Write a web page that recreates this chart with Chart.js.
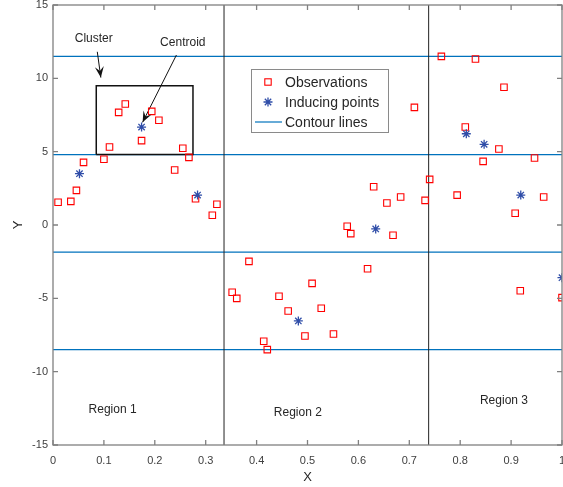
<!DOCTYPE html>
<html>
<head>
<meta charset="utf-8">
<script src="https://cdn.jsdelivr.net/npm/chart.js@4/dist/chart.umd.min.js"></script>
<style>
  html, body { margin: 0; padding: 0; background: #fff; }
  #chart { display: block; }
</style>
</head>
<body>
<canvas id="chart" width="563" height="487"></canvas>
<script>
// observations (red squares)
const obsX = [0.010, 0.035, 0.046, 0.060, 0.100, 0.111, 0.129, 0.142, 0.174, 0.194,
              0.208, 0.239, 0.255, 0.267, 0.280, 0.313, 0.322, 0.352, 0.361, 0.385,
              0.414, 0.421, 0.444, 0.462, 0.495, 0.509, 0.527, 0.551, 0.578, 0.585,
              0.618, 0.630, 0.656, 0.668, 0.683, 0.710, 0.731, 0.740, 0.763, 0.794,
              0.810, 0.830, 0.845, 0.876, 0.886, 0.908, 0.918, 0.946, 0.964, 1.000];
const obsY = [1.55, 1.61, 2.36, 4.27, 4.48, 5.32, 7.68, 8.25, 5.75, 7.75,
              7.14, 3.75, 5.23, 4.61, 1.79, 0.66, 1.41, -4.59, -5.00, -2.48,
              -7.93, -8.50, -4.86, -5.86, -7.57, -3.98, -5.68, -7.43, -0.09, -0.59,
              -2.98, 2.61, 1.50, -0.70, 1.91, 8.02, 1.68, 3.11, 11.50, 2.04,
              6.68, 11.32, 4.34, 5.18, 9.39, 0.80, -4.48, 4.57, 1.91, -4.95];

// inducing points (blue stars)
const indX = [0.052, 0.174, 0.284, 0.482, 0.634, 0.812, 0.847, 0.919, 1.000];
const indY = [3.50, 6.68, 2.04, -6.54, -0.27, 6.22, 5.50, 2.04, -3.59];

// horizontal contour lines and region borders
const contourLevels = [11.5, 4.8, -1.85, -8.5];
const regionBorders = [0.336, 0.738];

// cluster box [x0, x1], [y0, y1]
const clusterBoxX = [0.085, 0.275];
const clusterBoxY = [4.8, 9.5];

// annotations: text, x, y
const labels = [
  ['Cluster', 0.080, 12.68],
  ['Centroid', 0.255, 12.41],
  ['Region 1', 0.117, -12.61],
  ['Region 2', 0.481, -12.77],
  ['Region 3', 0.886, -12.0]
];
// arrows: from [x, y] to [x, y]
const arrows = [
  [[0.087, 11.81], [0.094, 10.05]],
  [[0.2425, 11.59], [0.176, 7.0]]
];

const xTicks = [0, 0.1, 0.2, 0.3, 0.4, 0.5, 0.6, 0.7, 0.8, 0.9, 1];
const yTicks = [-15, -10, -5, 0, 5, 10, 15];

const FONT = '"Liberation Sans", Arial, Helvetica, sans-serif';
const TXT = '#262626';
const AXIS = '#808080';
const BLUE_LINE = '#0072BD';
const RED = '#FF0000';
const STAR = '#2F4DA8';

const datasets = [
  {
    label: 'Inducing points',
    data: indX.map((x, i) => ({ x, y: indY[i] })),
    pointStyle: 'star',
    radius: 4.5,
    borderColor: STAR,
    backgroundColor: STAR,
    borderWidth: 1.3,
    showLine: false
  },
  {
    label: 'Observations',
    data: obsX.map((x, i) => ({ x, y: obsY[i] })),
    pointStyle: 'rect',
    radius: 4.6,
    borderColor: RED,
    backgroundColor: 'rgba(0,0,0,0)',
    borderWidth: 1.1,
    showLine: false
  },
  {
    label: 'box',
    data: [
      { x: clusterBoxX[0], y: clusterBoxY[0] }, { x: clusterBoxX[1], y: clusterBoxY[0] },
      { x: clusterBoxX[1], y: clusterBoxY[1] }, { x: clusterBoxX[0], y: clusterBoxY[1] },
      { x: clusterBoxX[0], y: clusterBoxY[0] }
    ],
    showLine: true, borderColor: '#111', borderWidth: 1.5, pointRadius: 0, fill: false
  }
];
arrows.forEach(a => datasets.push({
  label: 'arrow',
  data: [{ x: a[0][0], y: a[0][1] }, { x: a[1][0], y: a[1][1] }],
  showLine: true, borderColor: '#111', borderWidth: 1, pointRadius: 0, fill: false
}));
regionBorders.forEach(bx => datasets.push({
  label: 'border',
  data: [{ x: bx, y: -15 }, { x: bx, y: 15 }],
  showLine: true, borderColor: '#222', borderWidth: 1, pointRadius: 0, fill: false
}));
contourLevels.forEach(lv => datasets.push({
  label: 'Contour lines',
  data: [{ x: 0, y: lv }, { x: 1, y: lv }],
  showLine: true, borderColor: BLUE_LINE, borderWidth: 1.2, pointRadius: 0, fill: false
}));

const decor = {
  id: 'decor',
  afterDraw(chart) {
    const ctx = chart.ctx;
    const ca = chart.chartArea;
    const xs = chart.scales.x, ys = chart.scales.y;
    ctx.save();

    // arrow heads
    ctx.fillStyle = '#111';
    arrows.forEach(a => {
      const x0 = xs.getPixelForValue(a[0][0]), y0 = ys.getPixelForValue(a[0][1]);
      const x1 = xs.getPixelForValue(a[1][0]), y1 = ys.getPixelForValue(a[1][1]);
      const ang = Math.atan2(y1 - y0, x1 - x0);
      const L = 11, W = 4.5;
      ctx.beginPath();
      ctx.moveTo(x1, y1);
      ctx.lineTo(x1 - L * Math.cos(ang) + W * Math.sin(ang), y1 - L * Math.sin(ang) - W * Math.cos(ang));
      ctx.lineTo(x1 - 0.6 * L * Math.cos(ang), y1 - 0.6 * L * Math.sin(ang));
      ctx.lineTo(x1 - L * Math.cos(ang) - W * Math.sin(ang), y1 - L * Math.sin(ang) + W * Math.cos(ang));
      ctx.closePath();
      ctx.fill();
    });

    // texts
    ctx.fillStyle = TXT;
    ctx.font = '12px ' + FONT;
    ctx.textAlign = 'center';
    ctx.textBaseline = 'middle';
    labels.forEach(l => {
      ctx.fillText(l[0], xs.getPixelForValue(l[1]), ys.getPixelForValue(l[2]));
    });

    // axes box and inward ticks
    ctx.strokeStyle = AXIS;
    ctx.lineWidth = 1.3;
    ctx.strokeRect(ca.left, ca.top, ca.right - ca.left, ca.bottom - ca.top);
    ctx.beginPath();
    xTicks.forEach(v => {
      const px = xs.getPixelForValue(v);
      ctx.moveTo(px, ca.bottom); ctx.lineTo(px, ca.bottom - 5);
      ctx.moveTo(px, ca.top); ctx.lineTo(px, ca.top + 5);
    });
    yTicks.forEach(v => {
      const py = ys.getPixelForValue(v);
      ctx.moveTo(ca.left, py); ctx.lineTo(ca.left + 5, py);
      ctx.moveTo(ca.right, py); ctx.lineTo(ca.right - 5, py);
    });
    ctx.stroke();

    // legend
    const lx = ca.left + 198, ly = ca.top + 64, lw = 137, lh = 63;
    ctx.fillStyle = '#fff';
    ctx.fillRect(lx, ly, lw, lh);
    ctx.strokeStyle = '#8a8a8a';
    ctx.lineWidth = 1;
    ctx.strokeRect(lx + 0.5, ly + 0.5, lw, lh);
    const rows = [ly + 13, ly + 33, ly + 53];
    const mx = lx + 17;
    // square
    ctx.strokeStyle = RED; ctx.lineWidth = 1.1;
    ctx.strokeRect(mx - 3.2, rows[0] - 3.2, 6.4, 6.4);
    // star
    ctx.strokeStyle = STAR; ctx.lineWidth = 1.3;
    ctx.beginPath();
    for (let k = 0; k < 4; k++) {
      const a = k * Math.PI / 4;
      ctx.moveTo(mx - 4.5 * Math.cos(a), rows[1] - 4.5 * Math.sin(a));
      ctx.lineTo(mx + 4.5 * Math.cos(a), rows[1] + 4.5 * Math.sin(a));
    }
    ctx.stroke();
    // line
    ctx.strokeStyle = BLUE_LINE; ctx.lineWidth = 1.2;
    ctx.beginPath(); ctx.moveTo(lx + 4, rows[2]); ctx.lineTo(lx + 31, rows[2]); ctx.stroke();
    ctx.fillStyle = TXT;
    ctx.font = '14px ' + FONT;
    ctx.textAlign = 'left';
    ['Observations', 'Inducing points', 'Contour lines'].forEach((t, i) => {
      ctx.fillText(t, lx + 34, rows[i] + 1);
    });

    // axis titles
    ctx.font = '13px ' + FONT;
    ctx.textAlign = 'center';
    ctx.fillText('X', (ca.left + ca.right) / 2, 477);
    ctx.translate(18, (ca.top + ca.bottom) / 2);
    ctx.rotate(-Math.PI / 2);
    ctx.fillText('Y', 0, 0);
    ctx.restore();
  }
};

new Chart(document.getElementById('chart'), {
  type: 'scatter',
  data: { datasets },
  options: {
    responsive: false,
    animation: false,
    layout: { autoPadding: false, padding: { top: 5, right: 1, left: 0, bottom: 0 } },
    plugins: { legend: { display: false }, tooltip: { enabled: false } },
    scales: {
      x: {
        type: 'linear', min: 0, max: 1,
        grid: { display: false, drawTicks: false },
        border: { display: false },
        ticks: { padding: 9, color: '#404040', font: { family: FONT, size: 11 }, maxRotation: 0,
                 callback: v => String(Math.round(v * 10) / 10) },
        afterBuildTicks(s) { s.ticks = xTicks.map(v => ({ value: v })); },
        afterFit(s) { s.height = 42; s.paddingLeft = 0; s.paddingRight = 0; }
      },
      y: {
        type: 'linear', min: -15, max: 15,
        grid: { display: false, drawTicks: false },
        border: { display: false },
        ticks: { padding: 5, color: '#404040', font: { family: FONT, size: 11 },
                 callback: v => String(v) },
        afterBuildTicks(s) { s.ticks = yTicks.map(v => ({ value: v })); },
        afterFit(s) { s.width = 53; s.paddingTop = 0; s.paddingBottom = 0; }
      }
    }
  },
  plugins: [decor]
});
</script>
</body>
</html>
